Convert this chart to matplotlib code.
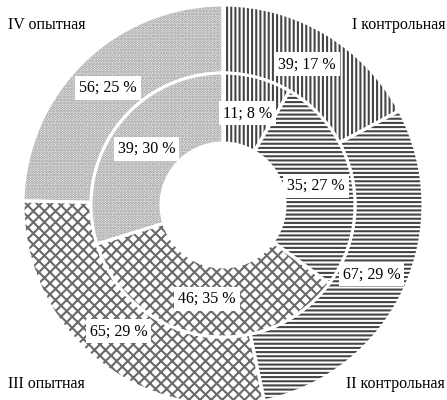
import matplotlib
matplotlib.use('Agg')
import matplotlib.pyplot as plt

# groups, outer ring and inner ring values (count; percent)
groups = ['I контрольная', 'II контрольная', 'III опытная', 'IV опытная']
outer_vals = [39, 67, 65, 56]
outer_pct = [17, 29, 29, 25]
inner_vals = [11, 35, 46, 39]
inner_pct = [8, 27, 35, 30]

hatches = ['||||', '----', 'xxx', '......']
hatch_cols = ['#454545', '#454545', '#6a6a6a', '#8c8c8c']

plt.rcParams['hatch.linewidth'] = 1.5
plt.rcParams['font.family'] = ['Liberation Serif', 'DejaVu Serif']

fig = plt.figure(figsize=(4.47, 4.0), dpi=100)
# pie is 400 px across, centred at (223, 205) px from top-left
ax = fig.add_axes([23 / 447, -5 / 400, 400 / 447, 1.0])

outer_labels = [f'{v}; {p} %' for v, p in zip(outer_vals, outer_pct)]
inner_labels = [f'{v}; {p} %' for v, p in zip(inner_vals, inner_pct)]


def ring(vals, radius, width, labels, ldist):
    wedges, texts = ax.pie(vals, radius=radius, startangle=90, counterclock=False,
                           labels=labels, labeldistance=ldist,
                           wedgeprops=dict(width=width, linewidth=0, facecolor='white'))
    # hatch colour follows edgecolor, line width is 0 so no edge is drawn
    for w, h, c in zip(wedges, hatches, hatch_cols):
        w.set_edgecolor(c)
        w.set_hatch(h)
    for t in texts:
        t.set_ha('center')
        t.set_va('center')
        t.set_fontsize(11.5)
        t.set_bbox(dict(boxstyle='square,pad=0.25', fc='white', ec='white', lw=0))
        t.set_zorder(5)
    # white separators on top of hatching
    ax.pie(vals, radius=radius, startangle=90, counterclock=False,
           wedgeprops=dict(width=width, linewidth=2.2, edgecolor='white', fill=False))


ring(outer_vals, 1.0, 0.34, outer_labels, 0.82)
ring(inner_vals, 0.66, 0.35, inner_labels, 0.72)

ax.set_xlim(-1, 1)
ax.set_ylim(-1, 1)
ax.set_aspect('equal')
ax.axis('off')

fs = 11.5
fig.text(8 / 447, 1 - 25 / 400, groups[3], ha='left', va='center', fontsize=fs)
fig.text(445 / 447, 1 - 25 / 400, groups[0], ha='right', va='center', fontsize=fs)
fig.text(8 / 447, 1 - 384 / 400, groups[2], ha='left', va='center', fontsize=fs)
fig.text(445 / 447, 1 - 384 / 400, groups[1], ha='right', va='center', fontsize=fs)

fig.savefig('out.png', dpi=100)
